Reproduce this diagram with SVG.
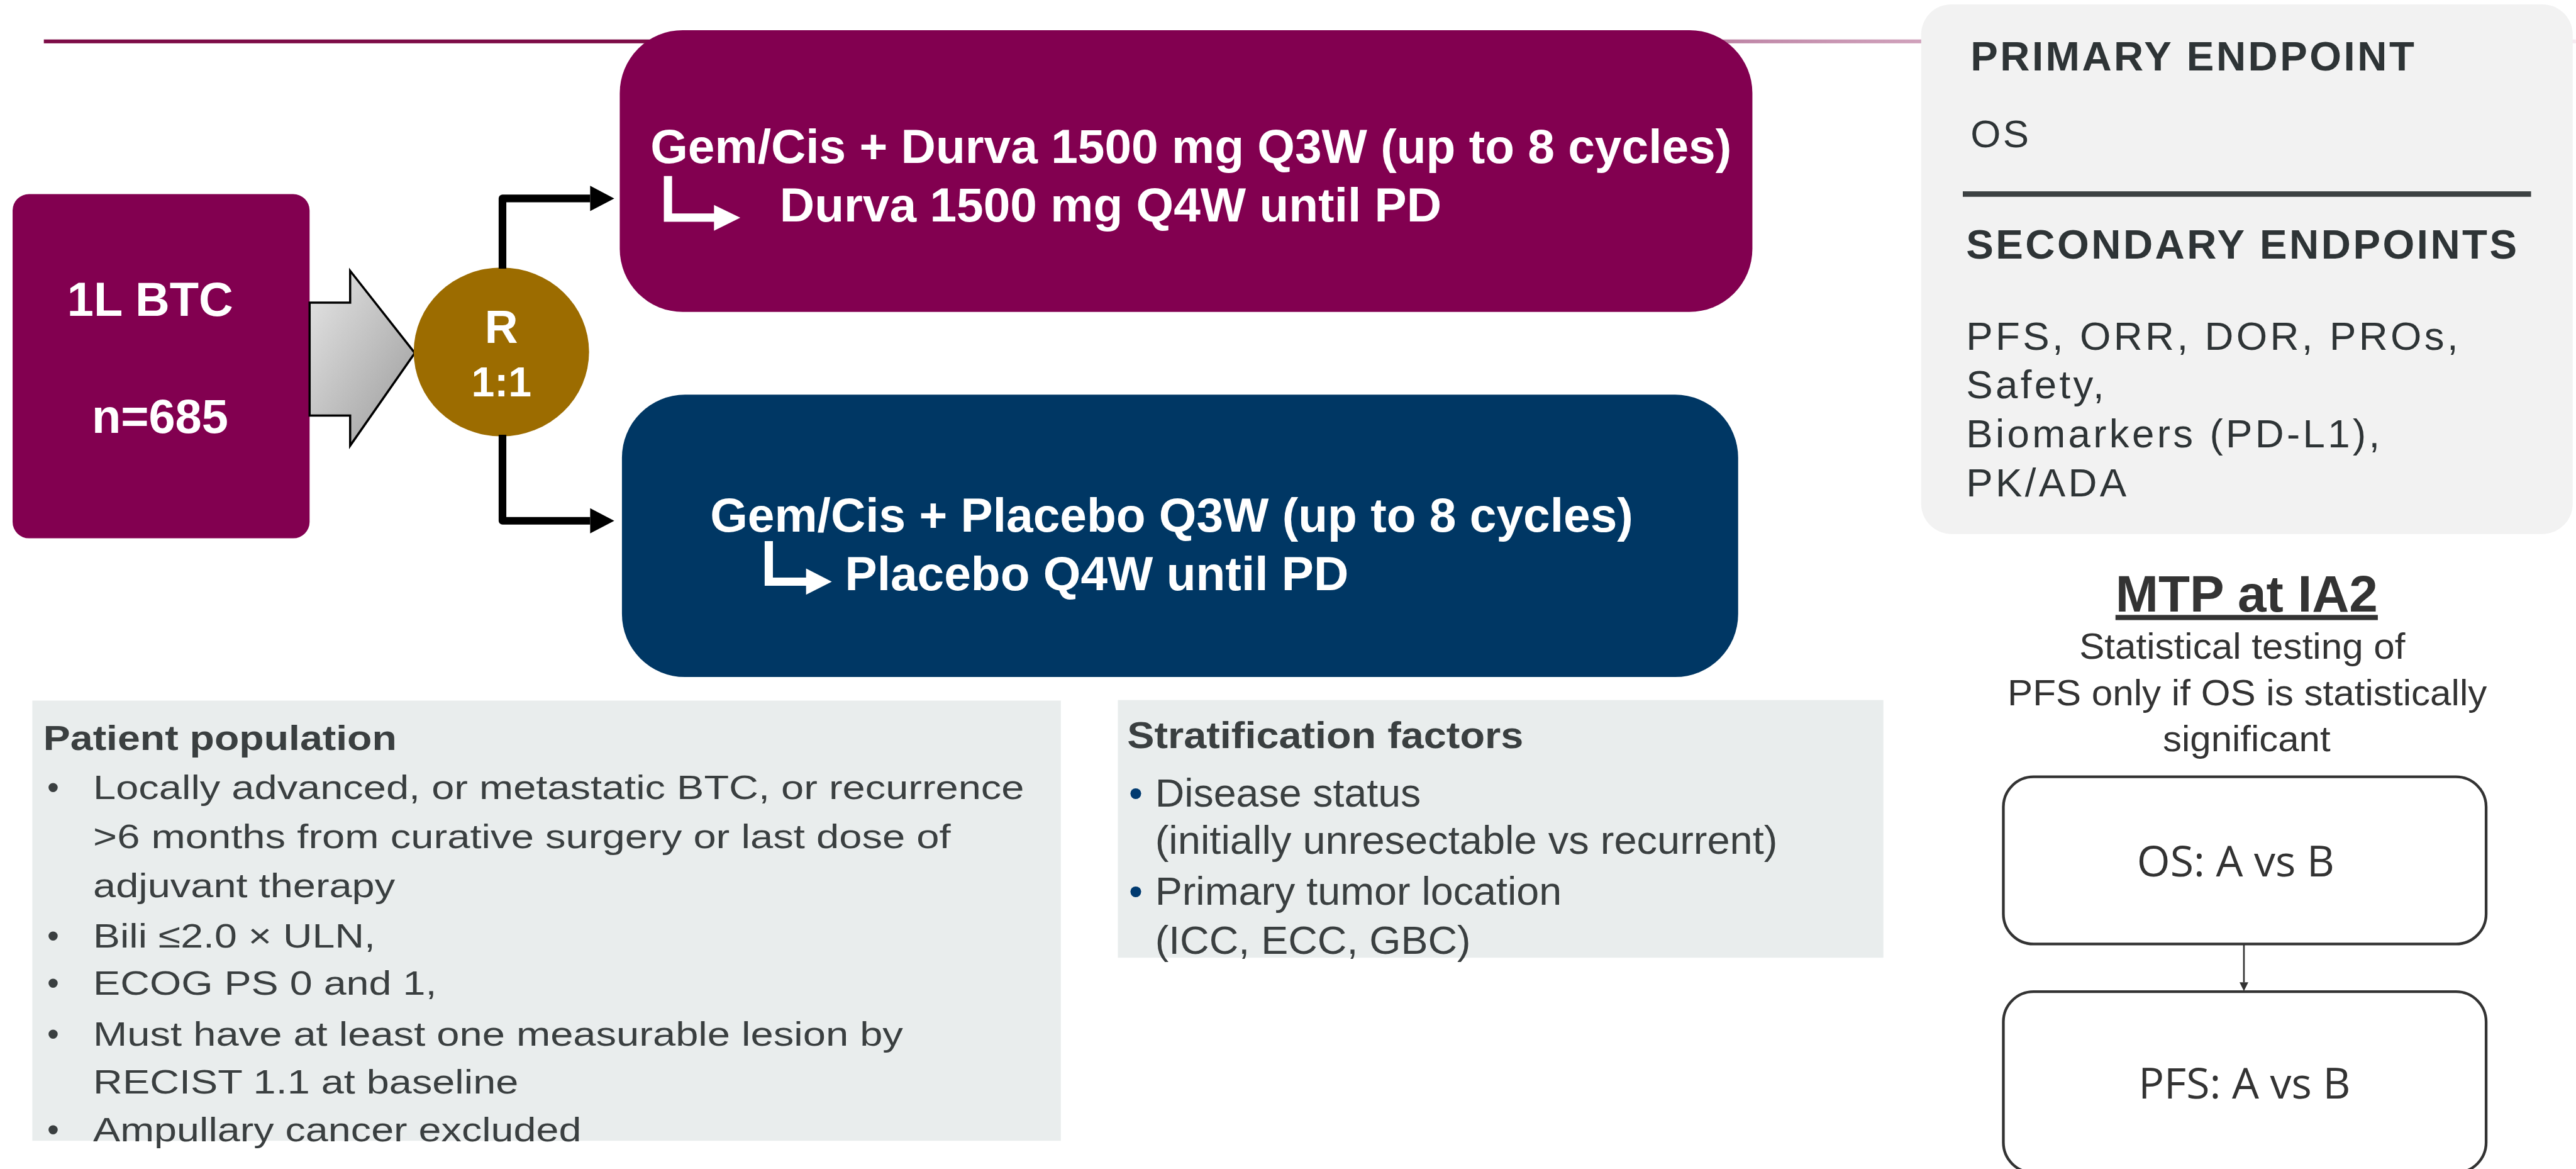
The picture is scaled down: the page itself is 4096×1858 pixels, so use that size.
<svg xmlns="http://www.w3.org/2000/svg" width="4096" height="1858" viewBox="0 0 4096 1858">
<defs>
<linearGradient id="topline" gradientUnits="userSpaceOnUse" x1="80" y1="0" x2="4701" y2="0">
<stop offset="0" stop-color="#7d0c47"/>
<stop offset="0.45" stop-color="#7d0c47"/>
<stop offset="0.68" stop-color="#c28cab"/>
<stop offset="0.76" stop-color="#d4a8c0"/>
<stop offset="1" stop-color="#f6eaf0"/>
</linearGradient>
<linearGradient id="grayarrow" x1="0" y1="0" x2="1" y2="1">
<stop offset="0" stop-color="#e6e6e6"/>
<stop offset="1" stop-color="#9a9a9a"/>
</linearGradient>
<marker id="arr" markerUnits="userSpaceOnUse" markerWidth="46" markerHeight="50" refX="0" refY="25" orient="auto">
<path d="M0,2 L44,25 L0,48 z" fill="#000"/>
</marker>
<marker id="arrs" markerUnits="userSpaceOnUse" markerWidth="18" markerHeight="16" refX="0" refY="8" orient="auto">
<path d="M0,0 L16,8 L0,16 z" fill="#333"/>
</marker>
<style>
.wb{font-family:"Liberation Sans",Arial,sans-serif;font-weight:bold;fill:#fff}
.tx{font-family:"Liberation Sans",Arial,sans-serif;fill:#3a3f40}
.txb{font-family:"Liberation Sans",Arial,sans-serif;font-weight:bold;fill:#3a3f40}
.ep{font-family:"Liberation Sans",Arial,sans-serif;fill:#2e3436}
.mtp{font-family:"Liberation Sans",Arial,sans-serif;fill:#333}
.cal{font-family:"Open Sans","Noto Sans",sans-serif;fill:#333}
.conn{fill:none;stroke:#000;stroke-width:14;stroke-linejoin:round}
.wline{fill:none;stroke:#fff;stroke-width:15;stroke-linejoin:miter}
.mbox{fill:#fff;stroke:#333;stroke-width:5}
.panel{fill:#e9eded}
</style>
</defs>
<g transform="scale(0.8713)">
<rect id="top-rule" x="80" y="72" width="4621" height="7" fill="url(#topline)"/>

<g id="node-btc">
<rect x="23" y="354" width="542" height="628" rx="30" fill="#820050"/>
<text class="wb" x="274" y="576" font-size="87" text-anchor="middle">1L BTC</text>
<text class="wb" x="292" y="790" font-size="87" text-anchor="middle">n=685</text>
</g>

<g id="node-gray-arrow">
<polygon points="565,552 639,552 639,494 757,644 639,813 639,758 565,758" fill="url(#grayarrow)" stroke="#000" stroke-width="4"/>
</g>

<g id="node-random">
<ellipse cx="915" cy="642" rx="160" ry="154" fill="#9c6c00"/>
<text class="wb" x="915" y="626" font-size="84" text-anchor="middle">R</text>
<text class="wb" x="915" y="723" font-size="76" text-anchor="middle">1:1</text>
</g>

<g id="connectors">
<path class="conn" d="M917,490 V362 H1077" marker-end="url(#arr)"/>
<path class="conn" d="M917,793 V950 H1077" marker-end="url(#arr)"/>
<path d="M4095,1722 V1792" fill="none" stroke="#333" stroke-width="3" marker-end="url(#arrs)"/>
</g>

<g id="node-durva">
<rect x="1131" y="55" width="2067" height="514" rx="115" fill="#820050"/>
<text class="wb" x="1187" y="297" font-size="88">Gem/Cis + Durva 1500 mg Q3W (up to 8 cycles)</text>
<path class="wline" d="M1219,321 V397 H1306"/>
<polygon points="1303,374 1351,397 1303,421" fill="#fff"/>
<text class="wb" x="1423" y="404" font-size="88">Durva 1500 mg Q4W until PD</text>
</g>

<g id="node-placebo">
<rect x="1135" y="720" width="2037" height="515" rx="115" fill="#003764"/>
<text class="wb" x="1296" y="970" font-size="88">Gem/Cis + Placebo Q3W (up to 8 cycles)</text>
<path class="wline" d="M1403,987 V1061 H1474"/>
<polygon points="1471,1037 1518,1061 1471,1085" fill="#fff"/>
<text class="wb" x="1542" y="1077" font-size="88">Placebo Q4W until PD</text>
</g>

<g id="node-endpoints">
<rect x="3506" y="8" width="1189" height="966" rx="55" fill="#f2f2f2"/>
<text class="ep" x="3596" y="128" font-size="75" font-weight="bold" letter-spacing="4">PRIMARY ENDPOINT</text>
<text class="ep" x="3596" y="268" font-size="71" letter-spacing="4">OS</text>
<rect x="3582" y="349" width="1037" height="10" fill="#3c4142"/>
<text class="ep" x="3588" y="472" font-size="75" font-weight="bold" letter-spacing="4">SECONDARY ENDPOINTS</text>
<text class="ep" x="3588" y="638" font-size="73" letter-spacing="5">PFS, ORR, DOR, PROs,</text>
<text class="ep" x="3588" y="727" font-size="73" letter-spacing="5">Safety,</text>
<text class="ep" x="3588" y="816" font-size="73" letter-spacing="5">Biomarkers (PD-L1),</text>
<text class="ep" x="3588" y="906" font-size="73" letter-spacing="5">PK/ADA</text>
</g>

<g id="node-mtp-title">
<text class="mtp" x="4100" y="1116" font-size="94" font-weight="bold" text-anchor="middle" text-decoration="underline">MTP at IA2</text>
<text class="mtp" x="4092" y="1202" font-size="65" text-anchor="middle" textLength="595" lengthAdjust="spacingAndGlyphs">Statistical testing of</text>
<text class="mtp" x="4101" y="1287" font-size="65" text-anchor="middle" textLength="875" lengthAdjust="spacingAndGlyphs">PFS only if OS is statistically</text>
<text class="mtp" x="4100" y="1370" font-size="65" text-anchor="middle" textLength="306" lengthAdjust="spacingAndGlyphs">significant</text>
</g>

<g id="node-os">
<rect class="mbox" x="3656" y="1417" width="881" height="305" rx="55"/>
<text class="cal" x="4080" y="1599" font-size="78" text-anchor="middle">OS: A vs B</text>
</g>

<g id="node-pfs">
<rect class="mbox" x="3656" y="1809" width="881" height="330" rx="55"/>
<text class="cal" x="4096" y="2004" font-size="78" text-anchor="middle">PFS: A vs B</text>
</g>

<g id="node-population">
<rect class="panel" x="59" y="1278" width="1877" height="803"/>
<text class="txb" x="79" y="1368" font-size="63" textLength="645" lengthAdjust="spacingAndGlyphs">Patient population</text>
<g class="tx" font-size="62">
<text x="86" y="1458">•</text>
<text x="170" y="1458" textLength="1699" lengthAdjust="spacingAndGlyphs">Locally advanced, or metastatic BTC, or recurrence</text>
<text x="170" y="1547" textLength="1565" lengthAdjust="spacingAndGlyphs">&gt;6 months from curative surgery or last dose of</text>
<text x="170" y="1637" textLength="551" lengthAdjust="spacingAndGlyphs">adjuvant therapy</text>
<text x="86" y="1728">•</text>
<text x="170" y="1728" textLength="515" lengthAdjust="spacingAndGlyphs">Bili ≤2.0 × ULN,</text>
<text x="86" y="1815">•</text>
<text x="170" y="1815" textLength="627" lengthAdjust="spacingAndGlyphs">ECOG PS 0 and 1,</text>
<text x="86" y="1907">•</text>
<text x="170" y="1907" textLength="1478" lengthAdjust="spacingAndGlyphs">Must have at least one measurable lesion by</text>
<text x="170" y="1995" textLength="776" lengthAdjust="spacingAndGlyphs">RECIST 1.1 at baseline</text>
<text x="86" y="2082">•</text>
<text x="170" y="2082" textLength="891" lengthAdjust="spacingAndGlyphs">Ampullary cancer excluded</text>
</g>
</g>

<g id="node-stratification">
<rect class="panel" x="2040" y="1277" width="1397" height="470"/>
<text class="txb" x="2057" y="1365" font-size="68" textLength="723" lengthAdjust="spacingAndGlyphs">Stratification factors</text>
<g class="tx" font-size="72">
<text x="2060" y="1471" fill="#003a70">•</text>
<text x="2108" y="1471" textLength="485" lengthAdjust="spacingAndGlyphs">Disease status</text>
<text x="2108" y="1558" textLength="1136" lengthAdjust="spacingAndGlyphs">(initially unresectable vs recurrent)</text>
<text x="2060" y="1650" fill="#003a70">•</text>
<text x="2108" y="1650" textLength="742" lengthAdjust="spacingAndGlyphs">Primary tumor location</text>
<text x="2108" y="1740" textLength="576" lengthAdjust="spacingAndGlyphs">(ICC, ECC, GBC)</text>
</g>
</g>
</g>
</svg>
